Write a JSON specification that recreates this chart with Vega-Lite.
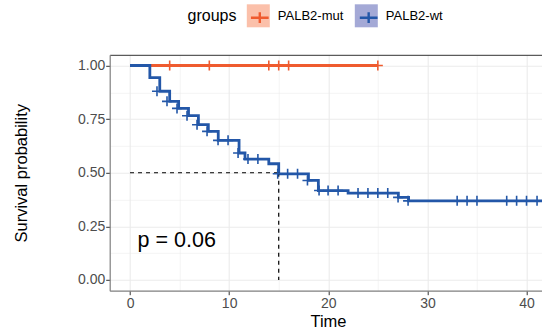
{
  "$schema": "https://vega.github.io/schema/vega-lite/v6.json",
  "width": 432.3,
  "height": 235.9,
  "autosize": {"type": "none"},
  "padding": {"left": 109.7, "top": 54.8, "right": 0, "bottom": 41.3},
  "config": {"font": "Liberation Sans", "view": {"stroke": null}},
  "datasets": {
    "curves": [
      {"group": "PALB2-mut", "time": 0, "surv": 1.0},
      {"group": "PALB2-mut", "time": 25, "surv": 1.0},
      {"group": "PALB2-wt", "time": 0, "surv": 1.0},
      {"group": "PALB2-wt", "time": 2, "surv": 0.944},
      {"group": "PALB2-wt", "time": 3, "surv": 0.88},
      {"group": "PALB2-wt", "time": 4, "surv": 0.833},
      {"group": "PALB2-wt", "time": 4.9, "surv": 0.8},
      {"group": "PALB2-wt", "time": 5.9, "surv": 0.766},
      {"group": "PALB2-wt", "time": 6.9, "surv": 0.724},
      {"group": "PALB2-wt", "time": 7.9, "surv": 0.693},
      {"group": "PALB2-wt", "time": 8.9, "surv": 0.651},
      {"group": "PALB2-wt", "time": 11, "surv": 0.592},
      {"group": "PALB2-wt", "time": 11.6, "surv": 0.564},
      {"group": "PALB2-wt", "time": 14, "surv": 0.542},
      {"group": "PALB2-wt", "time": 15, "surv": 0.495},
      {"group": "PALB2-wt", "time": 18, "surv": 0.464},
      {"group": "PALB2-wt", "time": 19, "surv": 0.417},
      {"group": "PALB2-wt", "time": 22, "surv": 0.405},
      {"group": "PALB2-wt", "time": 27.07, "surv": 0.385},
      {"group": "PALB2-wt", "time": 28.1, "surv": 0.369},
      {"group": "PALB2-wt", "time": 42, "surv": 0.369}
    ],
    "censors": [
      {"group": "PALB2-mut", "time": 4, "surv": 1.0},
      {"group": "PALB2-mut", "time": 8, "surv": 1.0},
      {"group": "PALB2-mut", "time": 14, "surv": 1.0},
      {"group": "PALB2-mut", "time": 15, "surv": 1.0},
      {"group": "PALB2-mut", "time": 16, "surv": 1.0},
      {"group": "PALB2-mut", "time": 25, "surv": 1.0},
      {"group": "PALB2-wt", "time": 2.72, "surv": 0.88},
      {"group": "PALB2-wt", "time": 3.73, "surv": 0.833},
      {"group": "PALB2-wt", "time": 4.74, "surv": 0.8},
      {"group": "PALB2-wt", "time": 5.75, "surv": 0.766},
      {"group": "PALB2-wt", "time": 6.76, "surv": 0.724},
      {"group": "PALB2-wt", "time": 7.77, "surv": 0.693},
      {"group": "PALB2-wt", "time": 8.88, "surv": 0.651},
      {"group": "PALB2-wt", "time": 9.89, "surv": 0.651},
      {"group": "PALB2-wt", "time": 10.9, "surv": 0.592},
      {"group": "PALB2-wt", "time": 11.9, "surv": 0.564},
      {"group": "PALB2-wt", "time": 12.9, "surv": 0.564},
      {"group": "PALB2-wt", "time": 14.9, "surv": 0.495},
      {"group": "PALB2-wt", "time": 15.9, "surv": 0.495},
      {"group": "PALB2-wt", "time": 16.9, "surv": 0.495},
      {"group": "PALB2-wt", "time": 17.9, "surv": 0.464},
      {"group": "PALB2-wt", "time": 19.07, "surv": 0.417},
      {"group": "PALB2-wt", "time": 19.98, "surv": 0.417},
      {"group": "PALB2-wt", "time": 20.99, "surv": 0.417},
      {"group": "PALB2-wt", "time": 23, "surv": 0.405},
      {"group": "PALB2-wt", "time": 24, "surv": 0.405},
      {"group": "PALB2-wt", "time": 25, "surv": 0.405},
      {"group": "PALB2-wt", "time": 26, "surv": 0.405},
      {"group": "PALB2-wt", "time": 27.04, "surv": 0.385},
      {"group": "PALB2-wt", "time": 28.05, "surv": 0.369},
      {"group": "PALB2-wt", "time": 33, "surv": 0.369},
      {"group": "PALB2-wt", "time": 34, "surv": 0.369},
      {"group": "PALB2-wt", "time": 35, "surv": 0.369},
      {"group": "PALB2-wt", "time": 38, "surv": 0.369},
      {"group": "PALB2-wt", "time": 39, "surv": 0.369},
      {"group": "PALB2-wt", "time": 40, "surv": 0.369},
      {"group": "PALB2-wt", "time": 41.06, "surv": 0.369}
    ],
    "median": [
      {"time": 0, "time2": 15, "surv": 0.5, "surv2": 0.5},
      {"time": 15, "time2": 15, "surv": 0.5, "surv2": 0}
    ],
    "pval": [{"label": "p = 0.06", "time": 0.76, "surv": 0.154}]
  },
  "resolve": {"axis": {"x": "independent", "y": "independent"}},
  "layer": [
    {
      "data": {"name": "curves"},
      "mark": {"type": "line", "interpolate": "step-after", "strokeWidth": 2.8, "clip": true},
      "encoding": {
        "x": {
          "field": "time", "type": "quantitative",
          "scale": {"domain": [-2.05, 41.56], "nice": false, "zero": false},
          "axis": {
            "orient": "bottom",
            "values": [0, 5, 10, 15, 20, 25, 30, 35, 40],
            "labelExpr": "datum.value % 10 === 0 ? datum.label : ''",
            "title": "Time",
            "titleFontSize": 16.5, "titleFontWeight": "normal", "titleColor": "black",
            "titleX": 218.3, "titleY": 36, "titleBaseline": "alphabetic", "titleAnchor": null, "titleAlign": "center",
            "labelFontSize": 14, "labelColor": "#4D4D4D", "labelPadding": 2, "labelFlush": false,
            "tickSize": 4, "tickColor": "#333333",
            "tickOpacity": {"condition": {"test": "datum.value % 10 === 0", "value": 1}, "value": 0},
            "grid": true, "gridColor": "#EBEBEB",
            "gridWidth": {"condition": {"test": "datum.value % 10 === 0", "value": 1.1}, "value": 0.55},
            "domain": true, "domainColor": "#7F7F7F", "domainWidth": 1.2
          }
        },
        "y": {
          "field": "surv", "type": "quantitative",
          "scale": {"domain": [-0.05, 1.05], "nice": false, "zero": false},
          "axis": {
            "orient": "left",
            "values": [0, 0.125, 0.25, 0.375, 0.5, 0.625, 0.75, 0.875, 1],
            "format": ".2f",
            "labelExpr": "(datum.value * 4) % 1 === 0 ? datum.label : ''",
            "title": "Survival probability",
            "titleFontSize": 16.5, "titleFontWeight": "normal", "titleColor": "black",
            "titleX": -88.7, "titleY": 117.95, "titleAngle": -90, "titleBaseline": "middle", "titleAlign": "center", "titleAnchor": null,
            "labelFontSize": 14, "labelColor": "#4D4D4D", "labelPadding": 1,
            "tickSize": 4, "tickColor": "#333333",
            "tickOpacity": {"condition": {"test": "(datum.value * 4) % 1 === 0", "value": 1}, "value": 0},
            "grid": true, "gridColor": "#EBEBEB",
            "gridWidth": {"condition": {"test": "(datum.value * 4) % 1 === 0", "value": 1.1}, "value": 0.55},
            "domain": true, "domainColor": "#7F7F7F", "domainWidth": 1.2
          }
        },
        "stroke": {
          "field": "group", "type": "nominal",
          "scale": {"range": ["#EF5B2F", "#2357A8"]},
          "legend": {
            "orient": "none", "legendX": 77.8, "legendY": -50.5, "direction": "horizontal", "zindex": 2,
            "title": "groups", "titleOrient": "left", "titleFontSize": 16, "titleFontWeight": "normal", "titleColor": "black", "titlePadding": 10.3, "titleOpacity": 0,
            "labelExpr": "' '", "labelFontSize": 13, "labelColor": "black", "labelOffset": 8, "columnPadding": 73.87,
            "symbolType": "M-0.77,0H0.77M0,-0.47V0.47", "symbolSize": 529, "symbolStrokeWidth": 0, "symbolFillColor": "transparent", "symbolOpacity": 1, "padding": 0,
            "encode": {"symbols": {"update": {"strokeWidth": {"value": 2.4}}}}
          }
        }
      }
    },
    {
      "data": {"name": "median"},
      "mark": {"type": "rule", "color": "black", "strokeDash": [4, 4], "strokeWidth": 1.2},
      "encoding": {
        "x": {"field": "time", "type": "quantitative",
          "axis": {"orient": "top", "labels": false, "ticks": false, "grid": false, "title": null, "domain": true, "domainColor": "#333333", "domainWidth": 1}},
        "x2": {"field": "time2"},
        "y": {"field": "surv", "type": "quantitative", "axis": null},
        "y2": {"field": "surv2"}
      }
    },
    {
      "data": {"name": "censors"},
      "mark": {"type": "point", "shape": "M-1,0H1M0,-1V1", "filled": false, "size": 100, "strokeWidth": 1.6, "opacity": 1},
      "encoding": {
        "x": {"field": "time", "type": "quantitative", "axis": null},
        "y": {"field": "surv", "type": "quantitative", "axis": null},
        "stroke": {
          "field": "group", "type": "nominal",
          "legend": {
            "orient": "none", "legendX": 77.8, "legendY": -50.5, "direction": "horizontal", "zindex": 2,
            "title": "groups", "titleOrient": "left", "titleFontSize": 16, "titleFontWeight": "normal", "titleColor": "black", "titlePadding": 10.3, "titleOpacity": 0,
            "labelExpr": "' '", "labelFontSize": 13, "labelColor": "black", "labelOffset": 8, "columnPadding": 73.87,
            "symbolType": "M-0.77,0H0.77M0,-0.47V0.47", "symbolSize": 529, "symbolStrokeWidth": 0, "symbolFillColor": "transparent", "symbolOpacity": 1, "padding": 0,
            "encode": {"symbols": {"update": {"strokeWidth": {"value": 2.4}}}}
          }
        },
        "fill": {
          "field": "group", "type": "nominal",
          "scale": {"domain": ["PALB2-mut", "PALB2-wt"], "range": ["#FBC0AA", "#A4A9D6"]},
          "legend": {
            "orient": "none", "legendX": 77.8, "legendY": -50.5, "direction": "horizontal", "zindex": 1,
            "title": "groups", "titleOrient": "left", "titleFontSize": 16, "titleFontWeight": "normal", "titleColor": "black", "titlePadding": 10.3,
            "labelFontSize": 13, "labelColor": "black", "labelOffset": 8, "columnPadding": 11,
            "symbolType": "square", "symbolSize": 529, "symbolStrokeWidth": 0, "symbolOpacity": 1, "padding": 0,
            "encode": {"symbols": {"update": {"stroke": {"value": "transparent"}, "strokeWidth": {"value": 0}}}}
          }
        }
      }
    },
    {
      "data": {"name": "pval"},
      "mark": {"type": "text", "align": "left", "baseline": "alphabetic", "fontSize": 21.5, "color": "black"},
      "encoding": {
        "x": {"field": "time", "type": "quantitative", "axis": null},
        "y": {"field": "surv", "type": "quantitative", "axis": null},
        "text": {"field": "label"}
      }
    }
  ]
}
